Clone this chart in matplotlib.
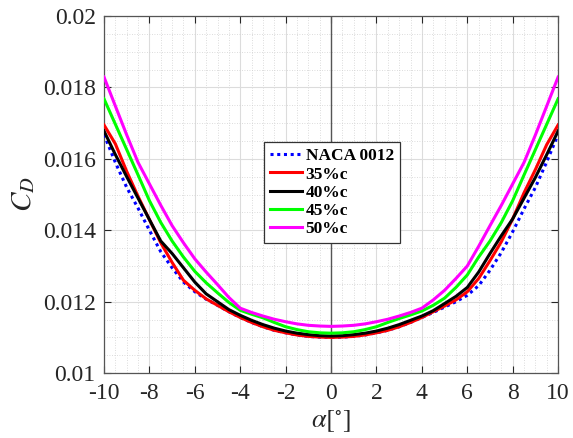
import matplotlib
matplotlib.use("Agg")
import matplotlib.pyplot as plt
from matplotlib.ticker import MultipleLocator

alpha = [-10, -9.5, -9, -8.5, -8, -7.5, -7, -6.5, -6, -5.5, -5, -4.5, -4, -3.5, -3, -2.5, -2, -1.5, -1, -0.5,
         0, 0.5, 1, 1.5, 2, 2.5, 3, 3.5, 4, 4.5, 5, 5.5, 6, 6.5, 7, 7.5, 8, 8.5, 9, 9.5, 10]
naca0012 = [0.01668, 0.01590, 0.01520, 0.01462, 0.01400, 0.01340, 0.01295, 0.01255, 0.01228, 0.01207, 0.01190,
            0.01172, 0.01156, 0.01142, 0.01130, 0.01120, 0.01113, 0.01107, 0.01103, 0.01101, 0.01100,
            0.01101, 0.01103, 0.01107, 0.01113, 0.01120, 0.01130, 0.01142, 0.01156, 0.01170, 0.01185,
            0.01200, 0.01218, 0.01245, 0.01288, 0.01338, 0.01396, 0.01460, 0.01520, 0.01592, 0.01668]
c35 = [0.01695, 0.01642, 0.01565, 0.01495, 0.01430, 0.01365, 0.01310, 0.01260, 0.01232, 0.01208, 0.01190,
       0.01172, 0.01156, 0.01142, 0.01130, 0.01120, 0.01113, 0.01107, 0.01103, 0.01101, 0.01100,
       0.01101, 0.01103, 0.01107, 0.01113, 0.01120, 0.01130, 0.01142, 0.01156, 0.01172, 0.01188,
       0.01205, 0.01228, 0.01265, 0.01315, 0.01368, 0.01432, 0.01505, 0.01570, 0.01640, 0.01695]
c40 = [0.01678, 0.01612, 0.01550, 0.01490, 0.01430, 0.01370, 0.01335, 0.01295, 0.01255, 0.01222, 0.01200,
       0.01178, 0.01162, 0.01148, 0.01136, 0.01126, 0.01118, 0.01112, 0.01108, 0.01105, 0.01104,
       0.01105, 0.01108, 0.01112, 0.01118, 0.01126, 0.01136, 0.01148, 0.01160, 0.01175, 0.01195,
       0.01215, 0.01240, 0.01283, 0.01335, 0.01385, 0.01432, 0.01490, 0.01548, 0.01612, 0.01678]
c45 = [0.01768, 0.01697, 0.01626, 0.01555, 0.01483, 0.01422, 0.01370, 0.01325, 0.01285, 0.01253, 0.01225,
       0.01198, 0.01176, 0.01165, 0.01155, 0.01142, 0.01130, 0.01122, 0.01116, 0.01113, 0.01112,
       0.01113, 0.01116, 0.01122, 0.01130, 0.01142, 0.01153, 0.01163, 0.01174, 0.01190, 0.01210,
       0.01240, 0.01275, 0.01325, 0.01370, 0.01422, 0.01483, 0.01555, 0.01626, 0.01697, 0.01768]
c50 = [0.01829, 0.01748, 0.01667, 0.01590, 0.01530, 0.01470, 0.01413, 0.01365, 0.01320, 0.01283, 0.01248,
       0.01212, 0.01182, 0.01170, 0.01160, 0.01151, 0.01144, 0.01138, 0.01134, 0.01132, 0.01131,
       0.01132, 0.01134, 0.01138, 0.01144, 0.01151, 0.01160, 0.01170, 0.01182, 0.01205, 0.01232,
       0.01265, 0.01300, 0.01355, 0.01413, 0.01470, 0.01530, 0.01590, 0.01667, 0.01748, 0.01829]
labels = ["NACA 0012", "35%c", "40%c", "45%c", "50%c"]

plt.rcParams['font.family'] = ['Liberation Serif', 'DejaVu Serif']
plt.rcParams['mathtext.fontset'] = 'stix'

fig = plt.figure(figsize=(5.73, 4.38), dpi=100)
ax = fig.add_axes([0.1815, 0.148, 0.7925, 0.8155])

ax.axvline(0, color='#555555', lw=1.0, zorder=1)
ax.plot(alpha, naca0012, color='#0000ff', lw=2.2, ls=(0, (1, 1.2)), label=labels[0], zorder=3)
ax.plot(alpha, c35, color='#ff0000', lw=2.2, label=labels[1], zorder=3)
ax.plot(alpha, c40, color='#000000', lw=2.2, label=labels[2], zorder=3)
ax.plot(alpha, c45, color='#00ff00', lw=2.2, label=labels[3], zorder=3)
ax.plot(alpha, c50, color='#ff00ff', lw=2.2, label=labels[4], zorder=3)

ax.set_xlim(-10, 10)
ax.set_ylim(0.01, 0.02)
ax.xaxis.set_minor_locator(MultipleLocator(0.5))
ax.yaxis.set_minor_locator(MultipleLocator(0.0005))
ax.set_yticks([0.01, 0.012, 0.014, 0.016, 0.018, 0.02])
ax.set_yticklabels(['0.01', '0.012', '0.014', '0.016', '0.018', '0.02'])
ax.set_xticks(range(-10, 11, 2))
ax.set_xticklabels([str(v) for v in range(-10, 11, 2)])

ax.grid(which='major', color='#dcdcdc', lw=0.8, ls='-')
ax.grid(which='minor', color='#d0d0d0', lw=0.6, ls=(0, (1, 2)))
ax.set_axisbelow(True)

ax.tick_params(which='both', direction='in', top=True, right=True, colors='#262626', labelsize=17)
ax.tick_params(which='major', length=5)
ax.tick_params(which='minor', length=0)
ax.tick_params(axis='x', which='major', pad=7)
ax.tick_params(axis='y', which='major', pad=6)
for s in ax.spines.values():
    s.set_color('#555555')
    s.set_linewidth(0.9)

ax.set_xlabel(r'$\alpha[^{\circ}]$', fontsize=19, color='#262626', labelpad=3)
ax.set_ylabel(r'$C_D$', fontsize=21, color='#262626', labelpad=4)

leg = ax.legend(loc='upper left', bbox_to_anchor=(0.352, 0.647), prop={'weight': 'bold', 'size': 12.5},
                frameon=True, fancybox=False, edgecolor='#333333', framealpha=1,
                handlelength=1.85, handletextpad=0.2, labelspacing=0.12, borderpad=0.35, borderaxespad=0)
leg.get_frame().set_linewidth(0.9)

fig.savefig('out.png', dpi=100)
